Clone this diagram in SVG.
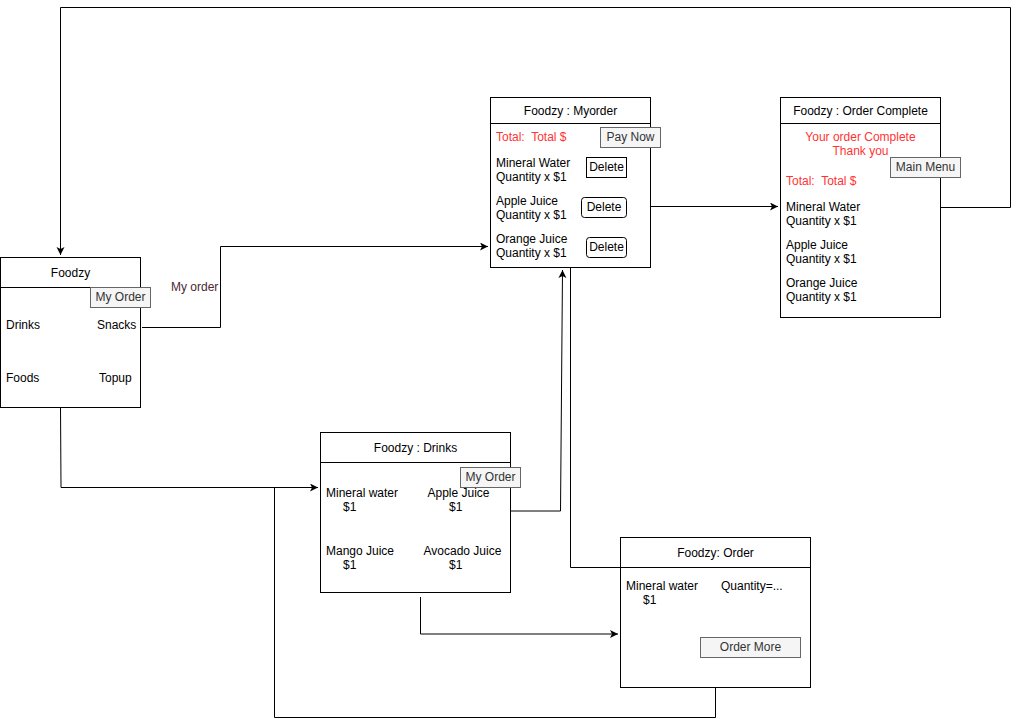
<svg xmlns="http://www.w3.org/2000/svg" width="1019" height="719" viewBox="0 0 1019 719">
<defs>
<marker id="arr" markerWidth="10" markerHeight="10" refX="8" refY="4" orient="auto" markerUnits="userSpaceOnUse">
<path d="M0,0 L8,4 L0,8 L2,4 z" fill="#000"/>
</marker>
<style>
text{font-family:"Liberation Sans",Arial,Helvetica,sans-serif;font-size:12px;fill:#000;}
.c{text-anchor:middle;}
.red{fill:#FF3333;}
.btn{fill:#f5f5f5;stroke:#666;stroke-width:1;}
.bt{fill:#333;text-anchor:middle;}
.box{fill:#fff;stroke:#000;stroke-width:1;}
.line{fill:none;stroke:#000;stroke-width:1;}
.del{fill:#fff;stroke:#000;stroke-width:1;}
.lbl{fill:#4D2633;}
</style>
</defs>
<rect width="1019" height="719" fill="#fff"/>
<g id="connectors">
<path class="line" d="M940,207.5 L1010.5,207.5 L1010.5,7.5 L60.5,7.5 L60.5,255" marker-end="url(#arr)"/>
<path class="line" d="M142,327.5 L220.5,327.5 L220.5,246.5 L488,246.5" marker-end="url(#arr)"/>
<path class="line" d="M650,206.5 L778,206.5" marker-end="url(#arr)"/>
<path class="line" d="M510,511 L560.5,511 L562.5,270" marker-end="url(#arr)"/>
<path class="line" d="M620,567.5 L570.5,567.5 L570.5,267"/>
<path class="line" d="M60.5,407 L61,487.5 L318,487.5" marker-end="url(#arr)"/>
<path class="line" d="M715.5,688 L715.5,717.5 L274.5,717.5 L274.5,487.5"/>
<path class="line" d="M420.5,597 L420.5,634 L618,634" marker-end="url(#arr)"/>
<text class="lbl" x="171" y="291">My order</text>
</g>
<g id="foodzy">
<rect class="box" x="0.5" y="257.5" width="140" height="150"/>
<line class="line" x1="0.5" y1="287.5" x2="140.5" y2="287.5"/>
<text class="c" x="70.5" y="277">Foodzy</text>
<rect class="btn" x="90.5" y="287.5" width="60" height="20"/>
<text class="bt" x="120.5" y="301">My Order</text>
<text x="6" y="329">Drinks</text>
<text x="97" y="329">Snacks</text>
<text x="6" y="382">Foods</text>
<text x="99" y="382">Topup</text>
</g>
<g id="myorder">
<rect class="box" x="490.5" y="97.5" width="160" height="170"/>
<line class="line" x1="490.5" y1="123.5" x2="650.5" y2="123.5"/>
<text class="c" x="570.5" y="114.5">Foodzy : Myorder</text>
<text class="red" x="496" y="141" xml:space="preserve">Total:  Total $</text>
<rect class="btn" x="600.5" y="127.5" width="60" height="20"/>
<text class="bt" x="630.5" y="141">Pay Now</text>
<text x="496" y="167">Mineral Water</text>
<text x="496" y="181">Quantity x $1</text>
<rect class="del" x="586.5" y="157.5" width="40" height="20"/>
<text class="c" x="606.5" y="171">Delete</text>
<text x="496" y="205">Apple Juice</text>
<text x="496" y="219">Quantity x $1</text>
<rect class="del" x="581.5" y="197.5" width="45" height="20" rx="3"/>
<text class="c" x="604" y="211">Delete</text>
<text x="496" y="243">Orange Juice</text>
<text x="496" y="257">Quantity x $1</text>
<rect class="del" x="586.5" y="237.5" width="40" height="20" rx="3"/>
<text class="c" x="606.5" y="251">Delete</text>
</g>
<g id="ordercomplete">
<rect class="box" x="780.5" y="97.5" width="160" height="220"/>
<line class="line" x1="780.5" y1="123.5" x2="940.5" y2="123.5"/>
<text class="c" x="860.5" y="114.5">Foodzy : Order Complete</text>
<text class="c red" x="860.5" y="140.5">Your order Complete</text>
<text class="c red" x="860.5" y="154.5">Thank you</text>
<rect class="btn" x="890.5" y="157.5" width="70" height="20"/>
<text class="bt" x="925.5" y="171">Main Menu</text>
<text class="red" x="786" y="185" xml:space="preserve">Total:  Total $</text>
<text x="786" y="211">Mineral Water</text>
<text x="786" y="225">Quantity x $1</text>
<text x="786" y="249">Apple Juice</text>
<text x="786" y="263">Quantity x $1</text>
<text x="786" y="287">Orange Juice</text>
<text x="786" y="301">Quantity x $1</text>
</g>
<g id="drinks">
<rect class="box" x="320.5" y="432.5" width="190" height="160"/>
<line class="line" x1="320.5" y1="462.5" x2="510.5" y2="462.5"/>
<text class="c" x="415.5" y="451.5">Foodzy : Drinks</text>
<text x="326" y="497">Mineral water</text>
<text x="343" y="511">$1</text>
<text x="427.5" y="497">Apple Juice</text>
<text x="449" y="511">$1</text>
<text x="326" y="555">Mango Juice</text>
<text x="343" y="569">$1</text>
<text x="423.5" y="555">Avocado Juice</text>
<text x="449" y="569">$1</text>
<rect class="btn" x="460.5" y="467.5" width="60" height="20"/>
<text class="bt" x="490.5" y="481">My Order</text>
</g>
<g id="order">
<rect class="box" x="620.5" y="537.5" width="190" height="150"/>
<line class="line" x1="620.5" y1="567.5" x2="810.5" y2="567.5"/>
<text class="c" x="715.5" y="557">Foodzy: Order</text>
<text x="626" y="590">Mineral water</text>
<text x="643" y="604">$1</text>
<text x="721" y="590">Quantity=...</text>
<rect class="btn" x="700.5" y="637.5" width="100" height="20"/>
<text class="bt" x="750.5" y="651">Order More</text>
</g>
</svg>
